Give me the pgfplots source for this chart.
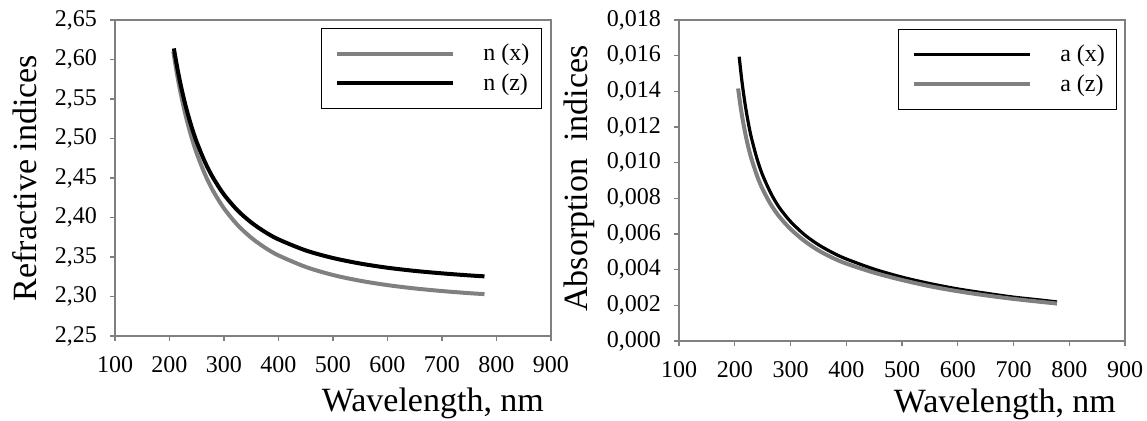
\documentclass[border=0pt]{standalone}
\usepackage{pgfplots}
\pgfplotsset{compat=1.18}
\usepackage{fontspec}
\setmainfont{Liberation Serif}
\definecolor{cgray}{RGB}{128,128,128}
\definecolor{axgray}{RGB}{128,128,128}

\pgfplotsset{
  mystyle/.style={
    scale only axis,
    xmin=100, xmax=900,
    xtick={100,200,...,900},
    axis line style={draw=axgray, line width=0.7pt},
    tick style={draw=axgray, line width=0.6pt},
    major tick length=2.5pt,
    tick align=outside,
    xtick pos=bottom, ytick pos=left,
    /pgf/number format/assume math mode=true,
    tick label style={font=\fontsize{12}{14}\selectfont},
    xticklabel style={yshift=-4pt},
    yticklabel style={xshift=-3pt},
    legend cell align=left,
    legend image code/.code={\path (0pt,0pt); \draw[##1] (3pt,0pt) -- (61pt,0pt);},
  }
}

\begin{document}
\begin{tikzpicture}[x=1pt,y=1pt]
\useasboundingbox (0,0) rectangle (573.5,210.5);

\begin{axis}[mystyle,
  at={(57.5pt,42.5pt)}, anchor=south west,
  width=218pt, height=158pt,
  ymin=2.25, ymax=2.65,
  ytick={2.25,2.30,2.35,2.40,2.45,2.50,2.55,2.60,2.65},
  yticklabel style={/pgf/number format/.cd, fixed, fixed zerofill, precision=2, use comma},
  xlabel={Wavelength, nm},
  xlabel style={at={(axis description cs:1,0)}, anchor=base east, yshift=-38pt, font=\fontsize{17}{20}\selectfont},
  ylabel={Refractive indices},
  ylabel style={at={(axis description cs:-0.2064,0.5)}, anchor=center, font=\fontsize{17}{20}\selectfont},
  legend style={at={(rel axis cs:0.979,0.975)}, anchor=north east, draw=black, line width=0.5pt,
    font=\fontsize{12}{14}\selectfont, inner xsep=4pt, inner ysep=5.75pt, row sep=1pt},
]
\addplot[cgray, line width=2pt, smooth] coordinates {
(207,2.6100) (215,2.5769) (222,2.5523) (230,2.5281) (240,2.5025) (250,2.4811)
(265,2.4548) (280,2.4337) (300,2.4115) (325,2.3904) (350,2.3744) (375,2.3619)
(400,2.3520) (450,2.3374) (500,2.3272) (550,2.3199) (600,2.3144) (650,2.3102)
(700,2.3069) (750,2.3042) (778,2.3030)};
\addlegendentry{\hspace{12pt}n (x)\hspace{3pt}}
\addplot[black, line width=2pt, smooth] coordinates {
(208,2.6140) (215,2.5868) (222,2.5633) (230,2.5402) (240,2.5159) (250,2.4954)
(265,2.4703) (280,2.4502) (300,2.4290) (325,2.4089) (350,2.3937) (375,2.3818)
(400,2.3723) (450,2.3583) (500,2.3487) (550,2.3417) (600,2.3364) (650,2.3324)
(700,2.3293) (750,2.3267) (778,2.3255)};
\addlegendentry{\hspace{12pt}n (z)\hspace{3pt}}
\end{axis}

\begin{axis}[mystyle,
  at={(339.5pt,40pt)}, anchor=south west,
  width=223pt, height=160.5pt,
  ymin=0, ymax=0.018,
  ytick={0,0.002,0.004,0.006,0.008,0.010,0.012,0.014,0.016,0.018},
  scaled y ticks=false,
  yticklabel style={/pgf/number format/.cd, fixed, fixed zerofill, precision=3, use comma},
  xlabel={Wavelength, nm},
  xlabel style={at={(axis description cs:1,0)}, anchor=base east, yshift=-36pt, xshift=-1pt, font=\fontsize{17}{20}\selectfont},
  ylabel={Absorption\ \ indices},
  ylabel style={at={(axis description cs:-0.224,0.506)}, anchor=center, font=\fontsize{17}{20}\selectfont},
  legend style={at={(rel axis cs:0.983,0.972)}, anchor=north east, draw=black, line width=0.5pt,
    font=\fontsize{12}{14}\selectfont, inner xsep=4pt, inner ysep=5.75pt, row sep=1pt},
]
\addplot[black, line width=1.6pt, smooth] coordinates {
(208,0.01594) (212,0.01479) (216,0.01383) (220,0.01300) (225,0.01212) (230,0.01138)
(240,0.01021) (250,0.00930) (265,0.00827) (280,0.00748) (300,0.00670) (325,0.00596)
(350,0.00540) (375,0.00496) (400,0.00460) (450,0.00403) (500,0.00358) (550,0.00322)
(600,0.00292) (650,0.00268) (700,0.00246) (750,0.00229) (778,0.00219)};
\addlegendentry{\hspace{12pt}a (x)\hspace{3pt}}
\addplot[cgray, line width=2pt, smooth] coordinates {
(206,0.01416) (210,0.01324) (214,0.01245) (220,0.01147) (225,0.01079) (230,0.01021)
(240,0.00926) (250,0.00851) (265,0.00764) (280,0.00697) (300,0.00628) (325,0.00561)
(350,0.00508) (375,0.00467) (400,0.00434) (450,0.00383) (500,0.00342) (550,0.00307)
(600,0.00279) (650,0.00256) (700,0.00236) (750,0.00219) (778,0.00210)};
\addlegendentry{\hspace{12pt}a (z)\hspace{3pt}}
\end{axis}
\end{tikzpicture}
\end{document}
